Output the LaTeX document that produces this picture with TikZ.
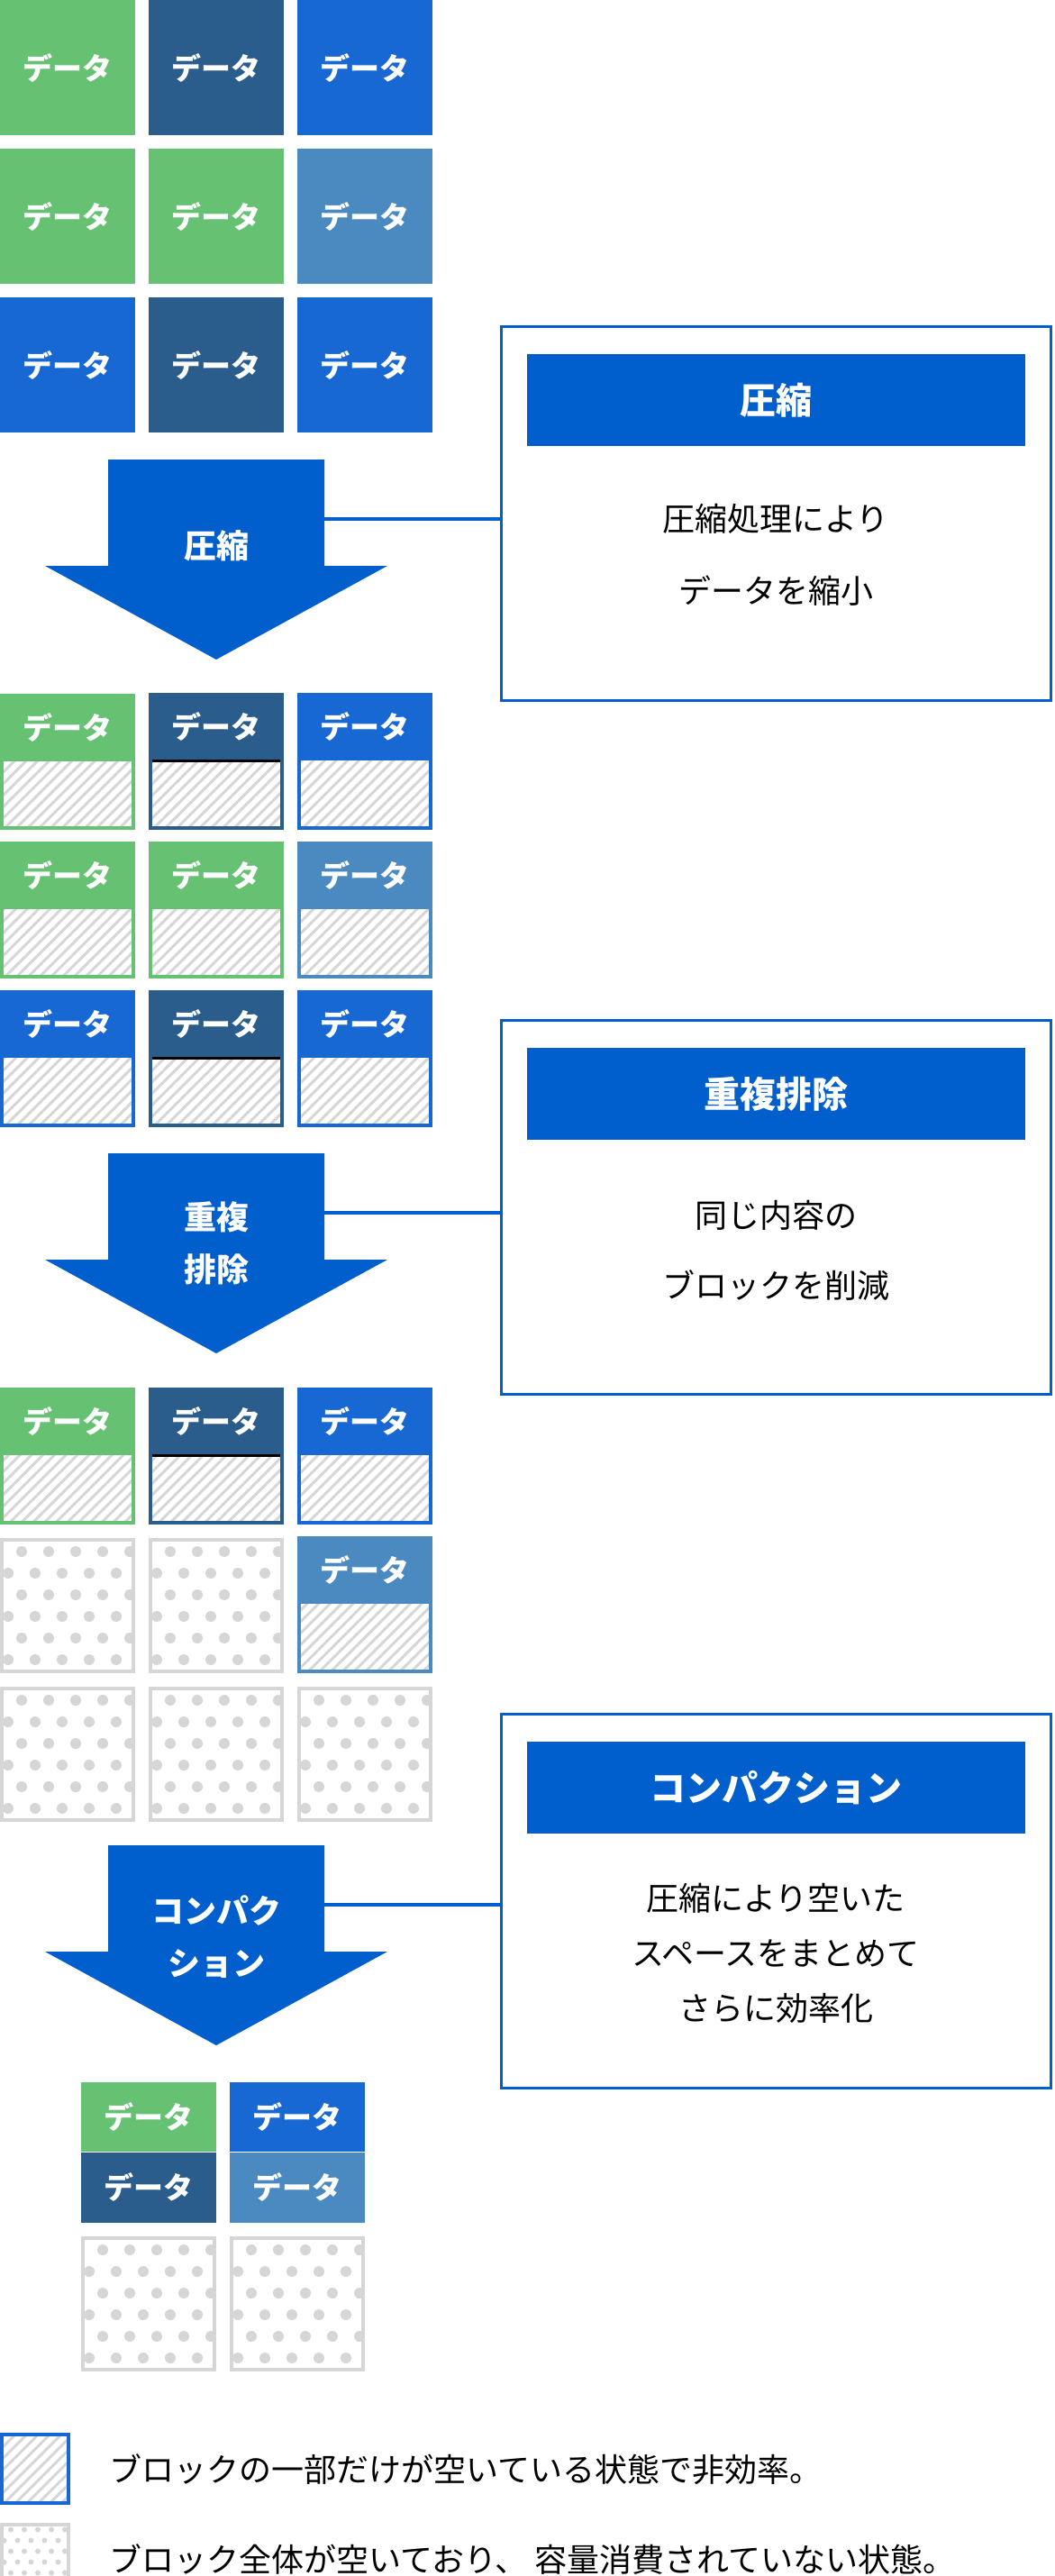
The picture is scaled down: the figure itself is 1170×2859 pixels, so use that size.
\documentclass[tikz,border=0pt]{standalone}
\usepackage{fontspec}
\newfontfamily\cjk{Noto Sans CJK JP}
\usetikzlibrary{patterns.meta,positioning}
\definecolor{cgreen}{HTML}{66C172}
\definecolor{cnavy}{HTML}{2A5D8C}
\definecolor{cblue}{HTML}{1868D4}
\definecolor{clight}{HTML}{4B8AC1}
\definecolor{cmain}{HTML}{005FCC}
\definecolor{cgray}{HTML}{D6D6D6}
\tikzset{
  full/.style={minimum width=150pt, minimum height=150pt, inner sep=0pt, text=white, font=\cjk\bfseries\fontsize{33}{33}\selectfont},
  hatch/.style={draw=#1, line width=4pt, minimum width=146pt, minimum height=146pt, inner sep=0pt,
    pattern={Lines[angle=45,distance=9pt,line width=3pt]}, pattern color=cgray},
  head/.style={fill=#1, anchor=north, minimum width=150pt, minimum height=75pt, inner sep=0pt, text=white, font=\cjk\bfseries\fontsize{33}{33}\selectfont},
  empty/.style={draw=cgray, line width=4pt, minimum width=146pt, minimum height=146pt, inner sep=0pt},
  panel/.style={draw=cmain, line width=3pt, minimum width=610pt, minimum height=415pt, inner sep=0pt},
  bar/.style={fill=cmain, minimum width=553pt, minimum height=102pt, text=white, font=\cjk\bfseries\fontsize{40}{40}\selectfont},
  ptext/.style={align=center, font=\cjk\fontsize{36}{#1}\selectfont},
  alabel/.style={text=white, align=center, font=\cjk\bfseries\fontsize{36}{58}\selectfont},
  link/.style={draw=cmain, line width=4pt},
}
% staggered dots in a box: x0 y0 x1 y1 step radius
\newcommand\dotgrid[6]{
  \begin{scope}
  \clip (#1+2,#2+2) rectangle (#3-2,#4-2);
  \foreach \r in {0,...,12}{
    \foreach \c in {0,...,12}{
      \pgfmathsetmacro\dx{mod(\r,2)==0 ? 24 : 9}
      \fill[cgray] (#1+\dx*#5/24+\c*30*#5/24, #2+15*#5/24+\r*24*#5/24) circle (#6);
    }
  }
  \end{scope}
}
\newcommand\darrow[2]{% top y, name
  \fill[cmain] (120,#1) -- (360,#1) -- (360,#1+118) -- (430,#1+118) -- (240,#1+222)
    -- (50,#1+118) -- (120,#1+118) -- cycle;
  \coordinate (#2) at (360,#1+66);
}
\begin{document}
\begin{tikzpicture}[x=1pt,y=-1pt]
\useasboundingbox (0,0) rectangle (1170,2859);

% original data
\node[full, fill=cgreen] (a11) at (75,75) {データ};
\node[full, fill=cnavy] (a12) at (240,75) {データ};
\node[full, fill=cblue] (a13) at (405,75) {データ};
\node[full, fill=cgreen] (a21) at (75,240) {データ};
\node[full, fill=cgreen] (a22) at (240,240) {データ};
\node[full, fill=clight] (a23) at (405,240) {データ};
\node[full, fill=cblue] (a31) at (75,405) {データ};
\node[full, fill=cnavy] (a32) at (240,405) {データ};
\node[full, fill=cblue] (a33) at (405,405) {データ};

% compression
\darrow{510}{c1}
\node[alabel] (l1) at (240,606) {圧縮};
\node[panel] (p1) at (861,570) {};
\node[bar] (t1) at (861,444) {圧縮};
\node[ptext=80] (d1) at (861,616) {圧縮処理により\\データを縮小};
\path[link] (c1) -- (p1.west |- c1);

\foreach \col/\x in {1/75,2/240,3/405}{
  \foreach \row/\y in {1/846,2/1011,3/1176}{
    \node[hatch=cblue] (b\row\col) at (\x,\y) {};
  }
}
\foreach \n/\c in {11/cgreen,12/cnavy,13/cblue,21/cgreen,22/cgreen,23/clight,31/cblue,32/cnavy,33/cblue}{
  \node[draw=\c, line width=4pt, minimum width=146pt, minimum height=146pt] at (b\n) {};
  \node[head=\c] (h\n) at ([yshift=2pt]b\n.north) {データ};
}
\draw[line width=3pt] (h12.south west) ++(4,0) -- ([xshift=-4pt]h12.south east);
\draw[line width=3pt] (h32.south west) ++(4,0) -- ([xshift=-4pt]h32.south east);

% deduplication
\darrow{1280}{c2}
\node[alabel] (l2) at (240,1380) {重複\\排除};
\node[panel] (p2) at (861,1340) {};
\node[bar] (t2) at (861,1214) {重複排除};
\node[ptext=78] (d2) at (861,1388) {同じ内容の\\ブロックを削減};
\path[link] (c2) -- (p2.west |- c2);

\foreach \n/\c/\x/\y in {11/cgreen/75/1617,12/cnavy/240/1617,13/cblue/405/1617,23/clight/405/1782}{
  \node[hatch=\c] (e\n) at (\x,\y) {};
  \node[head=\c] (k\n) at ([yshift=2pt]e\n.north) {データ};
}
\draw[line width=3pt] (k12.south west) ++(4,0) -- ([xshift=-4pt]k12.south east);
\foreach \n/\x/\y in {21/75/1782,22/240/1782,31/75/1947,32/240/1947,33/405/1947}{
  \node[empty] (e\n) at (\x,\y) {};
  \dotgrid{\x-75}{\y-75}{\x+75}{\y+75}{24}{6}
}

% compaction
\darrow{2048}{c3}
\node[alabel] (l3) at (240,2150) {コンパク\\ション};
\node[panel] (p3) at (861,2110) {};
\node[bar] (t3) at (861,1984) {コンパクション};
\node[ptext=61] (d3) at (861,2168) {圧縮により空いた\\スペースをまとめて\\さらに効率化};
\path[link] (c3) -- (p3.west |- c3);

\node[head=cgreen, minimum height=77pt] (f1) at (165,2311) {データ};
\node[head=cblue, minimum height=77pt] (f2) at (330,2311) {データ};
\node[head=cnavy, minimum height=78pt] (f3) at (f1.south) {データ};
\node[head=clight, minimum height=78pt] (f4) at (f2.south) {データ};
\node[empty] (g1) at (165,2557) {};
\node[empty] (g2) at (330,2557) {};
\dotgrid{90}{2482}{240}{2632}{24}{6}
\dotgrid{255}{2482}{405}{2632}{24}{6}

% legend
\node[hatch=cblue, minimum width=74pt, minimum height=76pt] (k1) at (39,2740) {};
\node[empty, minimum width=74pt, minimum height=76pt] (k2) at (39,2840) {};
\dotgrid{0}{2800}{78}{2880}{12}{3}
\node[anchor=west, font=\cjk\fontsize{36}{36}\selectfont] (m1) at (118,2741) {ブロックの一部だけが空いている状態で非効率。};
\node[anchor=west, font=\cjk\fontsize{36}{36}\selectfont] (m2) at (118,2841) {ブロック全体が空いており、 容量消費されていない状態。};
\end{tikzpicture}
\end{document}
